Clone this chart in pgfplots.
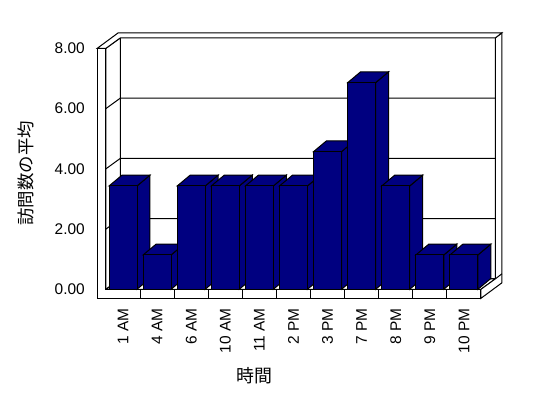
\documentclass[border=0pt]{standalone}
\usepackage{fontspec}
\setmainfont{Liberation Sans}
\newfontfamily\jp{Noto Sans CJK JP}
\usepackage{pgfplots}
\usepackage{pgfplotstable}
\pgfplotsset{compat=1.18}
\definecolor{navybar}{RGB}{0,0,128}
\tikzset{
  wall/.style={fill=white, draw=black, line width=1bp, line join=miter},
  edge/.style={draw=black, line width=1bp},
  barface/.style={fill=navybar, draw=black, line width=1bp, line join=miter},
}
\pgfplotstableread{
x v
0 3.43
1 1.14
2 3.43
3 3.43
4 3.43
5 3.43
6 4.57
7 6.86
8 3.43
9 1.14
10 1.14
}\data
\def\bw{0.41}
\def\bdx{0.381}
\def\bdy{0.36}
\begin{document}
\begin{tikzpicture}
\begin{axis}[
  scale only axis, width=375bp, height=241bp,
  xmin=-0.5, xmax=10.5, ymin=0, ymax=8,
  clip=false,
  axis lines*=left, axis line style={draw=none}, major tick length=0pt,
  xtick={0,...,10},
  xticklabels={1 AM,4 AM,6 AM,10 AM,11 AM,2 PM,3 PM,7 PM,8 PM,9 PM,10 PM},
  ytick={0,2,4,6,8},
  tick label style={font=\fontsize{15.5}{18}\selectfont},
  /pgf/number format/assume math mode=true,
  yticklabel style={/pgf/number format/fixed, /pgf/number format/fixed zerofill, /pgf/number format/precision=2, anchor=east, inner sep=0pt, xshift=-21bp},
  xticklabel style={rotate=90, anchor=east, inner sep=0pt, xshift=-19bp},
  xlabel={\jp 時間}, ylabel={\jp 訪問数の平均},
  xlabel style={at={(axis description cs:0.395,-0.358)}, anchor=center, font=\fontsize{18}{20}\selectfont},
  ylabel style={at={(axis description cs:-0.213,0.481)}, anchor=center, font=\fontsize{17.5}{20}\selectfont},
]
% picture extent
\addplot[draw=none, forget plot] coordinates {(-3.609,-3.608) (12.466,9.603)};
% back wall front face
\addplot[wall, forget plot] coordinates {(-0.075,0.349) (10.925,0.349) (10.925,8.349) (-0.075,8.349)} -- cycle;
% left wall inner face
\addplot[wall, forget plot] coordinates {(-0.5,0) (-0.5,8) (-0.075,8.349) (-0.075,0.349)} -- cycle;
% floor top
\addplot[wall, forget plot] coordinates {(-0.5,0) (10.5,0) (10.925,0.349) (-0.075,0.349)} -- cycle;
% gridlines
\addplot[edge, forget plot] coordinates {(-0.755,2) (-0.5,2) (-0.075,2.349) (10.925,2.349)};
\addplot[edge, forget plot] coordinates {(-0.755,4) (-0.5,4) (-0.075,4.349) (10.925,4.349)};
\addplot[edge, forget plot] coordinates {(-0.755,6) (-0.5,6) (-0.075,6.349) (10.925,6.349)};
% right side faces
\addplot[wall, forget plot] coordinates {(10.5,0) (10.5,-0.299) (11.116,0.216) (11.116,8.515) (10.925,8.349) (10.925,0.349)} -- cycle;
\addplot[edge, forget plot] coordinates {(10.925,0.349) (11.116,0.515)};
% top faces
\addplot[wall, forget plot] coordinates {(-0.755,8) (-0.5,8) (-0.075,8.349) (10.925,8.349) (11.116,8.515) (-0.139,8.515)} -- cycle;
% front faces of left wall and floor
\addplot[wall, forget plot] coordinates {(-0.755,8) (-0.5,8) (-0.5,0) (10.5,0) (10.5,-0.299) (-0.755,-0.299)} -- cycle;
\pgfplotsinvokeforeach{0.5,1.5,...,9.5}{
  \addplot[edge, forget plot] coordinates {(#1,-0.299) (#1,0)};
}
% bar sides and tops
\pgfplotsinvokeforeach{0,...,10}{%
  \pgfplotstablegetelem{#1}{v}\of\data
  \pgfmathsetmacro\vv{\pgfplotsretval}%
  \pgfmathsetmacro\xl{#1-\bw}%
  \pgfmathsetmacro\xr{#1+\bw}%
  \pgfmathsetmacro\xlb{#1-\bw+\bdx}%
  \pgfmathsetmacro\xrb{#1+\bw+\bdx}%
  \pgfmathsetmacro\vb{\vv+\bdy}%
  \edef\cmd{%
    \noexpand\addplot[barface, forget plot] coordinates {(\xr,0) (\xrb,\bdy) (\xrb,\vb) (\xr,\vv)} -- cycle;
    \noexpand\addplot[barface, forget plot] coordinates {(\xl,\vv) (\xlb,\vb) (\xrb,\vb) (\xr,\vv)} -- cycle;
  }\cmd
}
% bar fronts
\addplot[ybar, bar width=0.82, bar shift=0pt, fill=navybar, draw=black, line width=1bp, forget plot] table[x=x, y=v] {\data};
\end{axis}
\end{tikzpicture}
\end{document}
